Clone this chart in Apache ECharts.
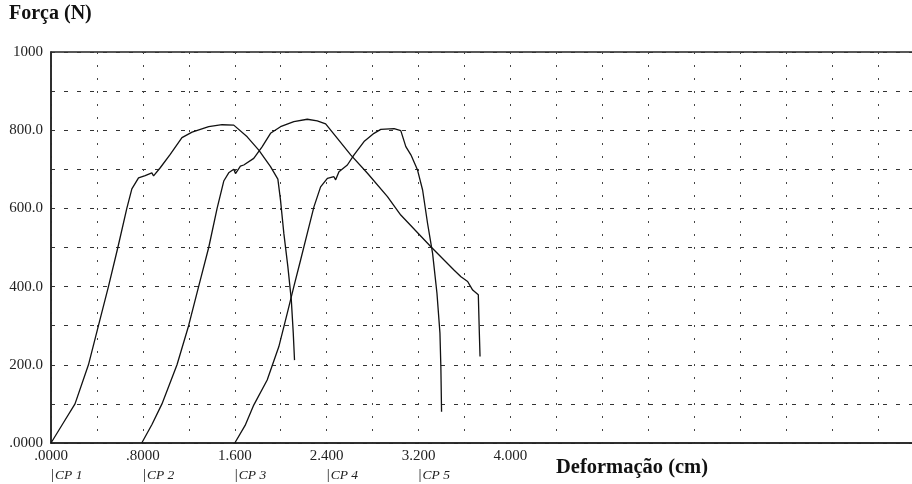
<!DOCTYPE html>
<html>
<head>
<meta charset="utf-8">
<script src="https://cdn.jsdelivr.net/npm/echarts@6/dist/echarts.min.js"></script>
<style>
html,body{margin:0;padding:0;background:#fff;}
#chart{width:912px;height:484px;}
</style>
</head>
<body>
<div id="chart"></div>
<script>
// ---- data ----
const cp1Deform = [0, 0.10, 0.209, 0.326, 0.413, 0.50, 0.582, 0.66, 0.704, 0.762, 0.82, 0.878, 0.893, 0.951, 1.038, 1.14, 1.228, 1.373, 1.489, 1.591, 1.708, 1.809, 1.911, 1.975, 1.998, 2.027, 2.062, 2.092, 2.109, 2.12];
const cp1Force  = [0, 48, 100, 200, 300, 400, 500, 600, 650, 678, 684, 691, 683, 704, 738, 781, 795, 809, 814, 813, 783, 749, 707, 675, 621, 536, 451, 366, 281, 212];

const cp2Deform = [0.79, 0.88, 0.966, 1.097, 1.198, 1.285, 1.373, 1.446, 1.504, 1.547, 1.591, 1.606, 1.649, 1.678, 1.765, 1.839, 1.911, 1.998, 2.114, 2.231, 2.318, 2.391, 2.493, 2.609, 2.755, 2.929, 3.045, 3.307, 3.51, 3.569, 3.627, 3.671, 3.72, 3.729, 3.735];
const cp2Force  = [0, 48, 100, 200, 300, 400, 500, 600, 670, 691, 700, 689, 708, 711, 728, 758, 792, 809, 822, 828, 824, 816, 779, 737, 690, 630, 583, 502, 442, 425, 413, 391, 379, 281, 221];

const cp3Deform = [1.6, 1.69, 1.765, 1.882, 1.983, 2.057, 2.114, 2.173, 2.231, 2.289, 2.347, 2.406, 2.463, 2.478, 2.507, 2.58, 2.638, 2.725, 2.812, 2.871, 2.987, 3.045, 3.089, 3.133, 3.191, 3.235, 3.278, 3.322, 3.36, 3.386, 3.394, 3.4];
const cp3Force  = [0, 45, 97, 161, 246, 332, 400, 468, 536, 604, 655, 677, 681, 673, 694, 711, 737, 771, 792, 802, 804, 799, 758, 737, 698, 647, 562, 485, 383, 281, 195, 80];

const xTickLabels = ['.0000', '.8000', '1.600', '2.400', '3.200', '4.000'];
const yTickLabels = ['.0000', '200.0', '400.0', '600.0', '800.0', '1000'];
const cpLabels = ['CP 1', 'CP 2', 'CP 3', 'CP 4', 'CP 5'];

const yTitle = 'Força (N)';
const xTitle = 'Deformação (cm)';

// ---- build ----
const zip = (xs, ys) => xs.map((x, i) => [x, ys[i]]);
const serif = "'Liberation Serif', 'Times New Roman', serif";

function idxOf(v, step) {
  const k = Math.round(v / step);
  return Math.abs(v - k * step) < 1e-6 ? k : -1;
}

const lineSeries = (name, xs, ys) => ({
  name: name,
  type: 'line',
  data: zip(xs, ys),
  showSymbol: false,
  symbol: 'none',
  smooth: false,
  lineStyle: { color: '#111', width: 1.3 },
  xAxisIndex: 0,
  yAxisIndex: 0,
  clip: false,
  animation: false
});

const chart = echarts.init(document.getElementById('chart'), null, { renderer: 'canvas' });
chart.setOption({
  animation: false,
  backgroundColor: '#fff',
  title: [
    { text: yTitle, left: 9, top: 4, padding: 0,
      textStyle: { fontFamily: serif, fontWeight: 'bold', fontSize: 20, color: '#111' } },
    { text: xTitle, left: 556, top: 457, padding: 0,
      textStyle: { fontFamily: serif, fontWeight: 'bold', fontSize: 20.5, color: '#111' } }
  ],
  grid: {
    left: 51, top: 52, width: 873, height: 391,
    outerBoundsMode: 'none',
    show: true, borderColor: '#222', borderWidth: 1.5, backgroundColor: 'transparent'
  },
  xAxis: [
    {
      type: 'value', min: 0, max: 7.6, interval: 0.4,
      axisLine: { show: true, lineStyle: { color: '#222', width: 1.5 } },
      axisTick: { show: false },
      splitLine: { show: true, lineStyle: { color: '#444', width: 1, type: [2, 11] } },
      axisLabel: {
        margin: 6, fontFamily: serif, fontSize: 15, color: '#222',
        formatter: v => { const k = idxOf(v, 0.8); return (k >= 0 && k < xTickLabels.length) ? xTickLabels[k] : ''; }
      }
    },
    {
      type: 'value', min: 0, max: 7.6, interval: 0.4, position: 'bottom',
      axisLine: { show: false }, axisTick: { show: false }, splitLine: { show: false },
      axisLabel: {
        margin: 25, align: 'left',
        formatter: v => { const k = idxOf(v, 0.8); return (k >= 0 && k < cpLabels.length) ? '{b||}{c|' + cpLabels[k] + '}' : ''; },
        rich: {
          b: { fontFamily: serif, fontSize: 15, color: '#222', fontStyle: 'normal' },
          c: { fontFamily: serif, fontSize: 13.5, color: '#222', fontStyle: 'italic', padding: [0, 0, 0, 1] }
        }
      }
    }
  ],
  yAxis: {
    type: 'value', min: 0, max: 1000, interval: 100,
    axisLine: { show: true, lineStyle: { color: '#222', width: 1.5 } },
    axisTick: { show: false },
    splitLine: { show: true, lineStyle: { color: '#333', width: 1, type: [4, 9] } },
    axisLabel: {
      margin: 8, fontFamily: serif, fontSize: 15, color: '#222',
      formatter: v => { const k = idxOf(v, 200); return (k >= 0 && k < yTickLabels.length) ? yTickLabels[k] : ''; }
    }
  },
  series: [
    lineSeries('CP 1', cp1Deform, cp1Force),
    lineSeries('CP 2', cp2Deform, cp2Force),
    lineSeries('CP 3', cp3Deform, cp3Force)
  ]
});
</script>
</body>
</html>
